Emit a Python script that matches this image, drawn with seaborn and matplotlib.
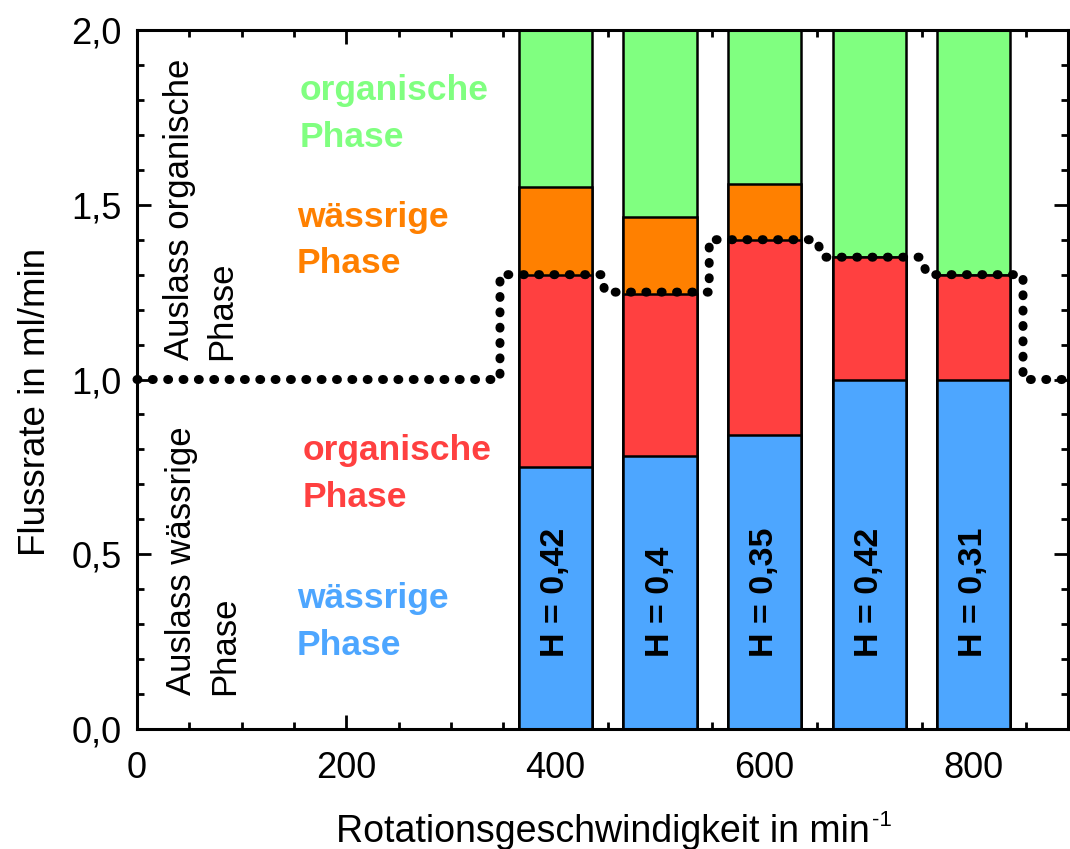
import numpy as np
import pandas as pd
import matplotlib
matplotlib.use("Agg")
import matplotlib.pyplot as plt
from matplotlib.ticker import MultipleLocator, FuncFormatter
import seaborn as sns

# Daten
drehzahl = [400, 500, 600, 700, 800]
waessrig_aq = [0.75, 0.78, 0.84, 1.00, 1.00]      # Auslass waessrige Phase: waessrige Phase
organisch_aq = [0.55, 0.465, 0.56, 0.35, 0.30]    # Auslass waessrige Phase: organische Phase
waessrig_org = [0.25, 0.22, 0.16, 0.00, 0.00]     # Auslass organische Phase: waessrige Phase
organisch_org = [0.65, 0.73, 0.64, 0.85, 0.90]    # Auslass organische Phase: organische Phase
h_werte = ["H = 0,42", "H = 0,4", "H = 0,35", "H = 0,42", "H = 0,31"]

# gepunktete Linie (Gesamtfluss Auslass waessrige Phase)
linie_x = [0, 347, 347, 445, 447, 547, 547, 650, 655, 750, 755, 847, 847, 890]
linie_y = [1.0, 1.0, 1.30, 1.30, 1.25, 1.25, 1.40, 1.40, 1.35, 1.35, 1.30, 1.30, 1.0, 1.0]

farben = {"blau": "#4da6ff", "rot": "#ff4040", "orange": "#ff8000", "gruen": "#80ff80"}

sns.set_theme(style="ticks")
plt.rcParams["font.family"] = ["Liberation Sans", "DejaVu Sans"]

df = pd.DataFrame({"x": drehzahl})
schichten = [waessrig_aq, organisch_aq, waessrig_org, organisch_org]
kumuliert = np.cumsum(np.array(schichten), axis=0)
df["blau"], df["rot"], df["orange"], df["gruen"] = kumuliert

fig = plt.figure(figsize=(10.7, 8.49), dpi=100)
ax = fig.add_axes([137 / 1070, 120 / 849, 931 / 1070, 699 / 849])

# von hinten nach vorne zeichnen (kumulierte Hoehen)
for spalte in ["gruen", "orange", "rot", "blau"]:
    sns.barplot(data=df, x="x", y=spalte, native_scale=True, width=0.7,
                color=farben[spalte], saturation=1, edgecolor="black",
                linewidth=1.8, ax=ax, errorbar=None)

ax.plot(linie_x, linie_y, color="black", linewidth=6.5,
        linestyle=(0, (0.1, 1.6)), dash_capstyle="round", zorder=5, clip_on=False)

for x, h in zip(drehzahl, h_werte):
    ax.text(x, 0.206, h, rotation=90, ha="center", va="bottom",
            fontsize=24.5, fontweight="bold", color="black", zorder=6)

# Beschriftungen der Phasen
fs = 25.5
ax.text(155, 1.80, "organische", color=farben["gruen"], fontsize=fs, fontweight="bold", va="baseline")
ax.text(155, 1.665, "Phase", color=farben["gruen"], fontsize=fs, fontweight="bold", va="baseline")
ax.text(153, 1.436, "wässrige", color=farben["orange"], fontsize=fs, fontweight="bold", va="baseline")
ax.text(153, 1.305, "Phase", color=farben["orange"], fontsize=fs, fontweight="bold", va="baseline")
ax.text(158, 0.770, "organische", color=farben["rot"], fontsize=fs, fontweight="bold", va="baseline")
ax.text(158, 0.635, "Phase", color=farben["rot"], fontsize=fs, fontweight="bold", va="baseline")
ax.text(153, 0.346, "wässrige", color=farben["blau"], fontsize=fs, fontweight="bold", va="baseline")
ax.text(153, 0.212, "Phase", color=farben["blau"], fontsize=fs, fontweight="bold", va="baseline")

ax.text(41, 1.056, "Auslass organische", rotation=90, ha="center", va="bottom", fontsize=25, color="black")
ax.text(81, 1.056, "Phase", rotation=90, ha="center", va="bottom", fontsize=25, color="black")
ax.text(43, 0.097, "Auslass wässrige", rotation=90, ha="center", va="bottom", fontsize=25, color="black")
ax.text(84, 0.097, "Phase", rotation=90, ha="center", va="bottom", fontsize=25, color="black")

ax.set_xlim(0, 890)
ax.set_ylim(0, 2.0)
ax.xaxis.set_major_locator(MultipleLocator(200))
ax.xaxis.set_minor_locator(MultipleLocator(50))
ax.yaxis.set_major_locator(MultipleLocator(0.5))
ax.yaxis.set_minor_locator(MultipleLocator(0.1))
ax.xaxis.set_major_formatter(FuncFormatter(lambda v, p: f"{v:.0f}"))
ax.yaxis.set_major_formatter(FuncFormatter(lambda v, p: f"{v:.1f}".replace(".", ",")))
ax.tick_params(which="both", direction="in", top=True, right=True, width=2,
               labelsize=26, color="black", labelcolor="black")
ax.tick_params(axis="y", which="major", length=10, pad=11)
ax.tick_params(axis="x", which="major", length=10, pad=16)
ax.tick_params(which="minor", length=5)
for s in ax.spines.values():
    s.set_linewidth(2.2)
    s.set_color("black")
    s.set_visible(True)

ax.set_xlabel("Rotationsgeschwindigkeit in min", fontsize=27, labelpad=20, color="black")
ax.set_ylabel("Flussrate in ml/min", fontsize=26.5, color="black")
ax.yaxis.set_label_coords(-0.09, 0.468)

# Exponent -1 hinter der x-Achsenbeschriftung
fig.canvas.draw()
bb = ax.xaxis.label.get_window_extent()
fig.text((bb.x1 + 3) / 1070, (bb.y1 + 4) / 849, "-1", fontsize=16, ha="left", va="top", color="black")

fig.savefig("out.png", dpi=100)
